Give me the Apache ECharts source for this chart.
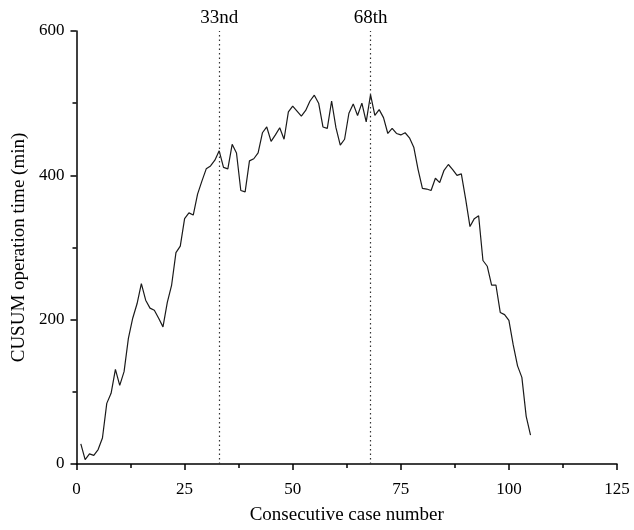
<!DOCTYPE html>
<html>
<head>
<meta charset="utf-8">
<script src="https://cdn.jsdelivr.net/npm/echarts@6/dist/echarts.min.js"></script>
<style>
html,body{margin:0;padding:0;background:#fff;}
#c{width:634px;height:530px;}
</style>
</head>
<body>
<div id="c"></div>
<script>
// CUSUM values for consecutive cases 1..105
var cusumValues = [
  28, 6, 14, 12, 20, 36, 84, 98, 131, 109,
  128, 174, 202, 222, 250, 227, 216, 213, 202, 190,
  224, 248, 293, 302, 340, 348, 345, 374, 392, 409,
  413, 421, 434, 411, 409, 443, 431, 379, 377, 420,
  423, 431, 459, 467, 447, 456, 466, 450, 488, 496,
  489, 482, 490, 503, 511, 500, 467, 465, 503, 466,
  442, 450, 486, 499, 483, 500, 474, 512, 483, 491,
  480, 458, 465, 458, 456, 459, 452, 439, 408, 382,
  381, 379, 396, 390, 407, 415, 408, 400, 402, 367,
  329, 340, 344, 282, 274, 248, 248, 210, 207, 199,
  165, 136, 120, 66, 40
];
var cutPoints = [33, 68];
var cutLabels = ['33nd', '68th'];
var xTicks = [0, 25, 50, 75, 100, 125];
var yTicks = [0, 200, 400, 600];

var seriesData = cusumValues.map(function (v, i) { return [i + 1, v]; });
var font = 'Liberation Serif';

var chart = echarts.init(document.getElementById('c'), null, {renderer: 'canvas'});
chart.setOption({
  animation: false,
  backgroundColor: '#fff',
  grid: {left: 76.5, right: 17, top: 31, bottom: 64, containLabel: false},
  xAxis: {
    type: 'value',
    min: xTicks[0], max: xTicks[xTicks.length - 1], interval: 25,
    name: 'Consecutive case number',
    nameLocation: 'middle', nameGap: 42,
    nameTextStyle: {fontFamily: font, fontSize: 19, color: '#000'},
    axisLine: {show: true, onZero: false, lineStyle: {color: '#000', width: 1.5}},
    axisTick: {show: true, inside: false, length: 6, lineStyle: {color: '#000', width: 1.5}},
    minorTick: {show: true, splitNumber: 2, length: 4, lineStyle: {color: '#000', width: 1.5}},
    axisLabel: {fontFamily: font, fontSize: 17, color: '#000', margin: 17},
    splitLine: {show: false}
  },
  yAxis: {
    type: 'value',
    min: yTicks[0], max: yTicks[yTicks.length - 1], interval: 200,
    name: 'CUSUM operation time (min)',
    nameLocation: 'middle', nameGap: 47,
    nameTextStyle: {fontFamily: font, fontSize: 19, color: '#000'},
    axisLine: {show: true, onZero: false, lineStyle: {color: '#000', width: 1.5}},
    axisTick: {show: true, inside: false, length: 6, lineStyle: {color: '#000', width: 1.5}},
    minorTick: {show: true, splitNumber: 2, length: 4, lineStyle: {color: '#000', width: 1.5}},
    axisLabel: {fontFamily: font, fontSize: 17, color: '#000', margin: 12},
    splitLine: {show: false}
  },
  series: [{
    type: 'line',
    data: seriesData,
    showSymbol: false,
    symbol: 'none',
    lineStyle: {color: '#1a1a1a', width: 1.2},
    markLine: {
      silent: true,
      symbol: ['none', 'none'],
      lineStyle: {type: [1.5, 3], color: '#333', width: 1.2},
      label: {
        show: true, position: 'end', distance: 3,
        fontFamily: font, fontSize: 19, color: '#000',
        formatter: function (p) { return p.name; }
      },
      data: cutPoints.map(function (x, i) { return {xAxis: x, name: cutLabels[i]}; })
    }
  }]
});
</script>
</body>
</html>
